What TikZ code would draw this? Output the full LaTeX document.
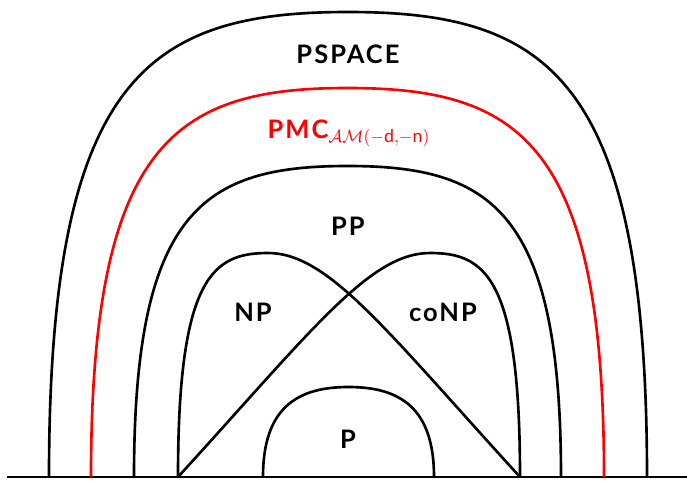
\documentclass[tikz,border=0pt]{standalone}
\usepackage{fontspec}
\setmainfont{Lato}
\setsansfont{Lato}
\usetikzlibrary{positioning}

\begin{document}
\begin{tikzpicture}[
  x=0.02cm, y=-0.02cm,
  curve/.style={line width=1.5pt, line join=round},
  redcurve/.style={curve, draw=red},
  lbl/.style={anchor=base, inner sep=0pt,
              font=\fontsize{14.5}{17}\selectfont\bfseries\addfontfeatures{LetterSpace=8}},
]
  \useasboundingbox (0,0) rectangle (687,481);

  %% ── ground line ──
  \draw[curve] (7,477) -- (687,477);

  %% ── PSPACE ──
  \draw[curve] (49,477) .. controls (49,77) and (148,12) .. (348,12)
               .. controls (548,12) and (647,77) .. (647,477);
  \node[lbl] (pspace) at (348,63) {PSPACE};

  %% ── PMC ──
  \draw[redcurve] (91,477) .. controls (91,142) and (175.5,88) .. (347.5,88)
                  .. controls (519.5,88) and (604,142) .. (604,477);
  \node[lbl, text=red] (pmc) at (349,138)
    {PMC$_{\mathcal{AM}(-\mathrm{d},-\mathrm{n})}$};

  %% ── PP ──
  \draw[curve] (134,477) .. controls (134,209.5) and (204.5,166) .. (347.5,166)
               .. controls (490.5,166) and (561,209.5) .. (561,477);
  \node[lbl] (pp) at (348,235) {PP};

  %% ── NP / coNP ──
  \draw[curve] (178,477) .. controls (178,277) and (213,253) .. (268,253)
               .. controls (328,253) and (385,329) .. (520,477);
  \draw[curve] (520,477) .. controls (520,277) and (485,253) .. (430,253)
               .. controls (370,253) and (313,329) .. (178,477);
  \node[lbl] (np)   at (253,321) {NP};
  \node[lbl] (conp) at (443,321) {coNP};

  %% ── P ──
  \draw[curve] (263,477) .. controls (263,407) and (298,387) .. (348.5,387)
               .. controls (399,387) and (434,407) .. (434,477);
  \node[lbl] (p) at (348,448) {P};
\end{tikzpicture}
\end{document}
